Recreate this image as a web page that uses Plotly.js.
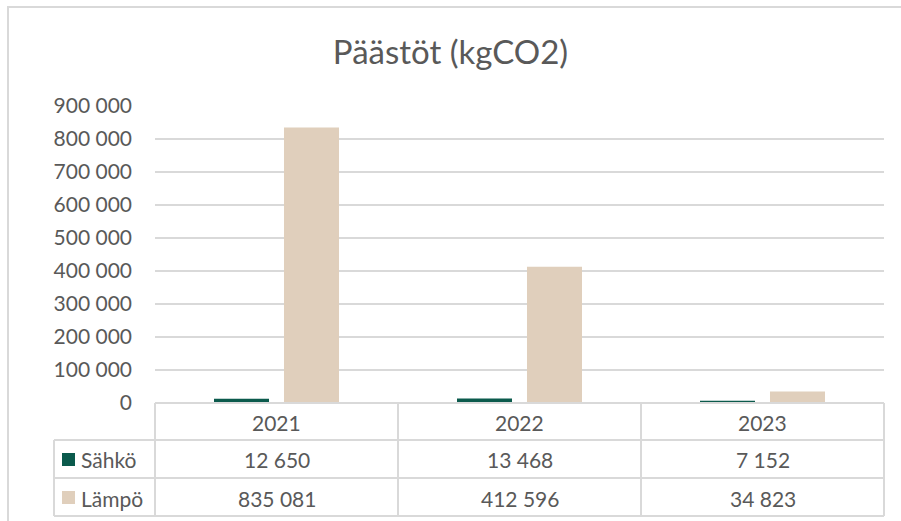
<!DOCTYPE html>
<html>
<head>
<meta charset="utf-8">
<script src="https://cdn.plot.ly/plotly-3.0.1.min.js"></script>
<style>html,body{margin:0;padding:0;background:#fff;}#chart{width:901px;height:521px;}</style>
</head>
<body>
<div id="chart"></div>
<script>
const years = ['2021', '2022', '2023'];
const seriesNames = ['Sähkö', 'Lämpö'];
const sahko = [12650, 13468, 7152];
const lampo = [835081, 412596, 34823];
const colors = ['#0B5A4C', '#E0CFBC'];
const values = [sahko, lampo];

const FONT = 'Lato, "Open Sans", sans-serif';
const TXT = '#595959';
const GRID = '#D9D9D9';

function fmt(v) {
  return String(v).replace(/\B(?=(\d{3})+(?!\d))/g, ' ');
}

const traces = seriesNames.map((n, i) => ({
  type: 'bar', name: n, x: years, y: values[i],
  marker: {color: colors[i]}, hoverinfo: 'skip'
}));

// plot area in pixels
const W = 901, H = 521;
const L = 155, R = 884, T = 106, B = 403;
const rowYs = [403, 440, 478, 516];
const tableLeft = 54;
const px = x => (x - L) / (R - L);
const py = y => (B - y) / (B - T);

const shapes = [];
const line = (x0, y0, x1, y1) => shapes.push({type: 'line', xref: 'paper', yref: 'paper',
  x0: px(x0), y0: py(y0), x1: px(x1), y1: py(y1), line: {color: GRID, width: 2}});

// chart border
shapes.push({type: 'rect', xref: 'paper', yref: 'paper', x0: px(8), y0: py(7), x1: px(905), y1: py(530),
  line: {color: GRID, width: 2}});
// table horizontal lines
line(L, rowYs[0], R, rowYs[0]);
line(tableLeft, rowYs[1], R, rowYs[1]);
line(tableLeft, rowYs[2], R, rowYs[2]);
line(tableLeft, rowYs[3], R, rowYs[3]);
// table vertical lines
const colW = (R - L) / years.length;
for (let i = 0; i <= years.length; i++) {
  const x = L + colW * i;
  line(x, rowYs[0], x, rowYs[3]);
}
line(tableLeft, rowYs[1], tableLeft, rowYs[3]);

const annotations = [];
const ann = (xv, y, text) => annotations.push({x: xv, xref: 'x', y: py(y), yref: 'paper',
  text: text, showarrow: false, xanchor: 'center', yanchor: 'middle', font: {family: FONT, size: 21, color: TXT}});

years.forEach((yr, i) => {
  ann(i, (rowYs[0] + rowYs[1]) / 2 + 1, yr);
  values.forEach((vals, s) => ann(i, (rowYs[s + 1] + rowYs[s + 2]) / 2 + 1, fmt(vals[i])));
});
seriesNames.forEach((n, s) => {
  const yc = (rowYs[s + 1] + rowYs[s + 2]) / 2;
  shapes.push({type: 'rect', xref: 'paper', yref: 'paper', x0: px(62), x1: px(75), y0: py(yc - 6), y1: py(yc + 7),
    fillcolor: colors[s], line: {width: 0}});
  annotations.push({x: px(79), xref: 'paper', y: py(yc + 1), yref: 'paper', text: n, showarrow: false,
    xanchor: 'left', yanchor: 'middle', font: {family: FONT, size: 21, color: TXT}});
});

const layout = {
  width: W, height: H,
  margin: {l: L, r: W - R, t: T, b: H - B, pad: 0},
  paper_bgcolor: '#fff', plot_bgcolor: '#fff',
  separators: ', ',
  title: {text: 'Päästöt (kgCO2)', font: {family: FONT, size: 33, color: TXT}, x: 0.5, xanchor: 'center',
    y: 1 - 52 / H, yanchor: 'middle'},
  showlegend: false,
  barmode: 'group', bargap: 0.424, bargroupgap: 0.214,
  xaxis: {type: 'category', range: [-0.5, 2.5], autorange: false, showticklabels: false, ticks: '', showgrid: false,
    zeroline: false, showline: false, fixedrange: true},
  yaxis: {range: [0, 900000], autorange: false, dtick: 100000, tickformat: ',d', showgrid: true, gridcolor: GRID, gridwidth: 2,
    zeroline: false, showline: false, ticks: '', ticklabelstandoff: 22,
    tickfont: {family: FONT, size: 21, color: TXT}, fixedrange: true},
  shapes: shapes, annotations: annotations
};

Plotly.newPlot('chart', traces, layout, {displayModeBar: false, staticPlot: true});
</script>
</body>
</html>
